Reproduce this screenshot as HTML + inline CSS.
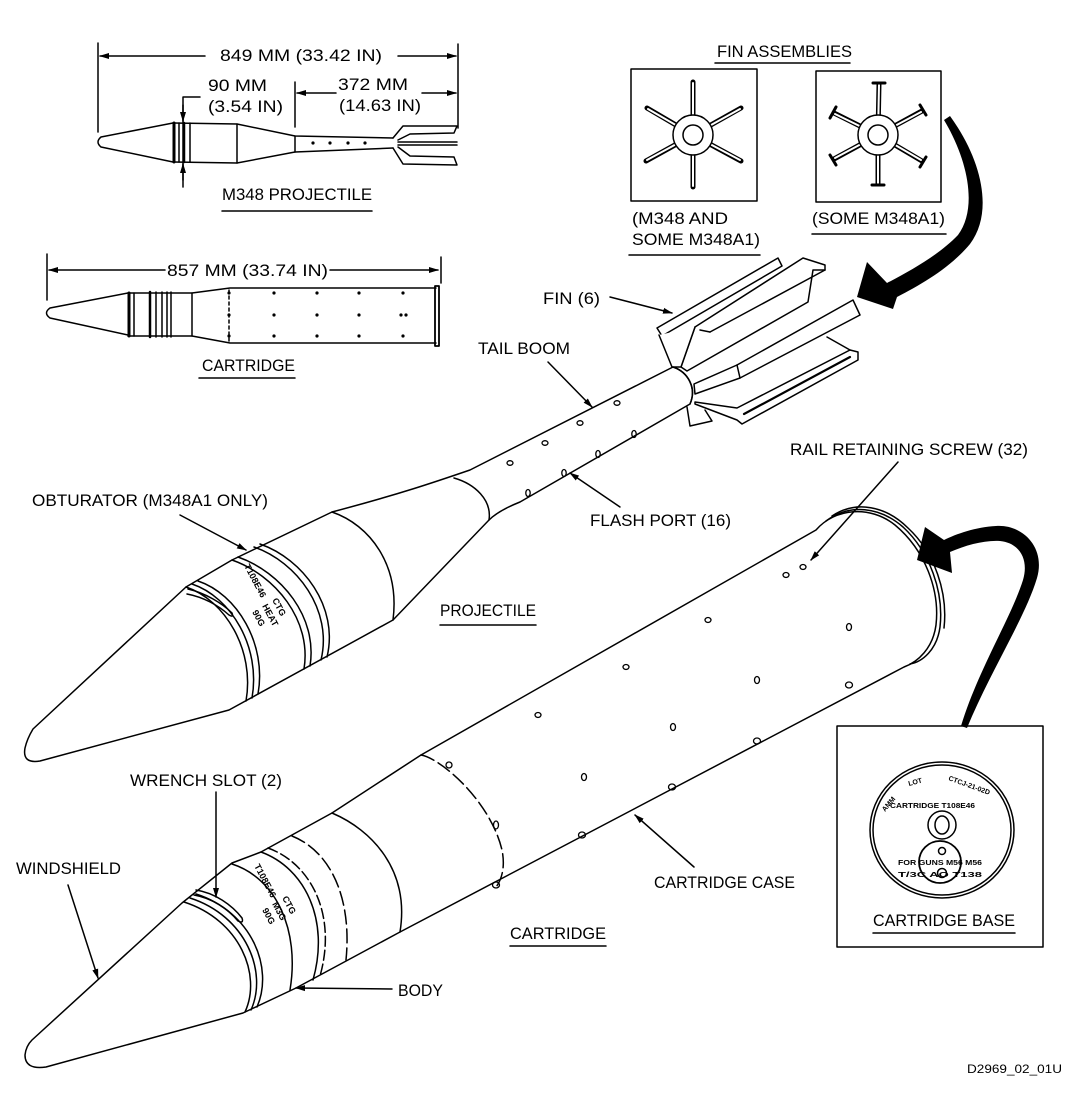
<!DOCTYPE html>
<html><head><meta charset="utf-8"><style>
html,body{margin:0;padding:0;background:#fff;}
svg{display:block;}
text{font-family:"Liberation Sans",Arial,sans-serif;fill:#000;}
</style></head><body>
<svg width="1080" height="1102" viewBox="0 0 1080 1102" xmlns="http://www.w3.org/2000/svg">
<defs>
<marker id="ah" markerWidth="10" markerHeight="8" refX="9" refY="4" orient="auto" markerUnits="userSpaceOnUse"><path d="M0,1 L10,4 L0,7 Z" fill="#000"/></marker>
</defs>
<rect width="1080" height="1102" fill="#fff"/>

<g fill="none" stroke="#000" stroke-width="1.5" stroke-linejoin="round" stroke-linecap="round">
<!-- ===== Small projectile view ===== -->
<line x1="98" y1="43" x2="98" y2="132"/>
<line x1="458" y1="44" x2="458" y2="128"/>
<line x1="205" y1="56" x2="100" y2="56" marker-end="url(#ah)"/>
<line x1="398" y1="56" x2="456" y2="56" marker-end="url(#ah)"/>
<line x1="295" y1="82" x2="295" y2="127"/>
<line x1="336" y1="93" x2="297" y2="93" marker-end="url(#ah)"/>
<line x1="422" y1="93" x2="456" y2="93" marker-end="url(#ah)"/>
<polyline points="200,97 183,97 183,187"/>
<line x1="183" y1="105" x2="183" y2="121" marker-end="url(#ah)"/>
<line x1="183" y1="180" x2="183" y2="164" marker-end="url(#ah)"/>
<path d="M173,123 L101,137 Q95,142 101,147 L173,162"/>
<path d="M173,123 L237,124 L295,136 L393,138 M173,162 L237,163 L295,152 L393,148"/>
<line x1="237" y1="124" x2="237" y2="163"/>
<line x1="295" y1="136" x2="295" y2="152"/>
<line x1="174" y1="123" x2="174" y2="162" stroke-width="3"/>
<line x1="179" y1="123" x2="179" y2="162"/>
<line x1="184" y1="123" x2="184" y2="162" stroke-width="2.5"/>
<line x1="190" y1="123" x2="190" y2="162"/>
<path d="M393,138 L403,126 L457,126 L454,133 L410,134 L398,140"/>
<path d="M398,142 L457,142 M398,145 L457,145"/>
<path d="M393,148 L403,164 L457,165 L454,157 L410,156 L398,147"/>
<g fill="#000" stroke="none">
<circle cx="313" cy="143" r="1.6"/><circle cx="330" cy="143" r="1.6"/><circle cx="348" cy="143" r="1.6"/><circle cx="365" cy="143" r="1.6"/>
</g>
<line x1="222" y1="211" x2="372" y2="211"/>

<!-- ===== Small cartridge view ===== -->
<line x1="47" y1="254" x2="47" y2="300"/>
<line x1="441" y1="257" x2="441" y2="283"/>
<line x1="165" y1="270" x2="49" y2="270" marker-end="url(#ah)"/>
<line x1="330" y1="270" x2="438" y2="270" marker-end="url(#ah)"/>
<path d="M128,293 L50,308 Q43,313 50,318 L128,335"/>
<path d="M128,293 L192,293 L230,288 L436,288 M128,336 L192,336 L230,343 L436,343"/>
<line x1="129" y1="293" x2="129" y2="336" stroke-width="3"/>
<line x1="134" y1="293" x2="134" y2="336"/>
<line x1="150" y1="292" x2="150" y2="337" stroke-width="2.5"/>
<line x1="156" y1="292" x2="156" y2="337"/>
<line x1="162" y1="292" x2="162" y2="337"/>
<line x1="167" y1="292" x2="167" y2="337"/>
<line x1="171" y1="292" x2="171" y2="337"/>
<line x1="192" y1="293" x2="192" y2="336"/>
<rect x="435" y="286" width="4" height="60" stroke-width="1.8"/>
<line x1="229" y1="290" x2="229" y2="341" stroke-dasharray="3,3"/>
<g fill="#000" stroke="none">
<circle cx="229" cy="293" r="1.6"/><circle cx="229" cy="315" r="1.6"/><circle cx="229" cy="336" r="1.6"/>
<circle cx="274" cy="293" r="1.6"/><circle cx="274" cy="315" r="1.6"/><circle cx="274" cy="336" r="1.6"/>
<circle cx="317" cy="293" r="1.6"/><circle cx="317" cy="315" r="1.6"/><circle cx="317" cy="336" r="1.6"/>
<circle cx="359" cy="293" r="1.6"/><circle cx="359" cy="315" r="1.6"/><circle cx="359" cy="336" r="1.6"/>
<circle cx="403" cy="293" r="1.6"/><circle cx="401" cy="315" r="1.6"/><circle cx="406" cy="315" r="1.6"/><circle cx="403" cy="336" r="1.6"/>
</g>
<line x1="199" y1="378" x2="295" y2="378"/>

<!-- ===== Fin assemblies ===== -->
<line x1="715" y1="63" x2="850" y2="63"/>
<rect x="631" y="69" width="126" height="132"/>
<rect x="816" y="71" width="125" height="131"/>
<line x1="629" y1="255" x2="760" y2="255"/>
<line x1="812" y1="234" x2="946" y2="234"/>
<g stroke-width="5">
<line x1="693" y1="135" x2="693" y2="82"/><line x1="693" y1="135" x2="693" y2="187"/>
<line x1="693" y1="135" x2="647" y2="108"/><line x1="693" y1="135" x2="741" y2="108"/>
<line x1="693" y1="135" x2="646" y2="161"/><line x1="693" y1="135" x2="741" y2="161"/>
</g>
<g stroke="#fff" stroke-width="2">
<line x1="693" y1="135" x2="693" y2="83"/><line x1="693" y1="135" x2="693" y2="186"/>
<line x1="693" y1="135" x2="648" y2="109"/><line x1="693" y1="135" x2="740" y2="109"/>
<line x1="693" y1="135" x2="647" y2="160"/><line x1="693" y1="135" x2="740" y2="160"/>
</g>
<circle cx="693" cy="135" r="20" fill="#fff"/>
<circle cx="693" cy="135" r="10"/>
<g stroke-width="5">
<line x1="878" y1="135" x2="879" y2="84"/><line x1="878" y1="135" x2="878" y2="184"/>
<line x1="878" y1="135" x2="834" y2="113"/><line x1="878" y1="135" x2="922" y2="111"/>
<line x1="878" y1="135" x2="834" y2="159"/><line x1="878" y1="135" x2="922" y2="161"/>
</g>
<g stroke="#fff" stroke-width="2">
<line x1="878" y1="135" x2="879" y2="85"/><line x1="878" y1="135" x2="878" y2="183"/>
<line x1="878" y1="135" x2="835" y2="114"/><line x1="878" y1="135" x2="921" y2="112"/>
<line x1="878" y1="135" x2="835" y2="158"/><line x1="878" y1="135" x2="921" y2="160"/>
</g>
<g stroke-width="3">
<line x1="873" y1="83" x2="885" y2="83"/><line x1="872" y1="185" x2="884" y2="185"/>
<line x1="830" y1="118" x2="836" y2="107"/><line x1="920" y1="105" x2="926" y2="115"/>
<line x1="830" y1="155" x2="836" y2="165"/><line x1="926" y1="157" x2="920" y2="167"/>
</g>
<circle cx="878" cy="135" r="20" fill="#fff"/>
<circle cx="878" cy="135" r="10"/>

<!-- ===== Big projectile ===== -->
<path fill="#fff" d="M33,729 L186,587 L232,560 L332,512 C400,494 435,482 470,470 L673,367 C688,372 697,388 690,404 L520,502 C505,508 495,514 489,520 L393,620 L229,710 L40,761 Q22,764 25,748 Q27,739 33,729 Z"/>
<path d="M186,587 C225,600 255,650 246,701"/>
<path d="M192,584 C231,597 261,647 252,698"/>
<path d="M198,581 C237,594 267,644 258,694"/>
<path d="M188,589 C205,593 222,603 232,613 Q234,618 229,615 C218,605 203,597 187,594"/>
<path d="M232,560 C275,575 312,620 304,669"/>
<path d="M238,557 C281,572 318,617 310,666"/>
<path d="M254,547 C297,562 333,610 321,660"/>
<path d="M260,544 C303,559 339,607 327,657"/>
<path d="M332,512 C370,525 400,565 393,620"/>
<path d="M454,478 C475,484 492,500 489,520"/>
<g stroke-width="1.3">
<ellipse cx="510" cy="463" rx="3" ry="2.3"/><ellipse cx="545" cy="443" rx="3" ry="2.3"/>
<ellipse cx="580" cy="423" rx="3" ry="2.3"/><ellipse cx="617" cy="403" rx="3" ry="2.3"/>
<ellipse cx="528" cy="493" rx="2.2" ry="3.5"/><ellipse cx="564" cy="473" rx="2.2" ry="3.5"/>
<ellipse cx="598" cy="454" rx="2.2" ry="3.5"/><ellipse cx="634" cy="434" rx="2.2" ry="3.5"/>
</g>

<!-- fins -->
<g fill="#fff">
<!-- fin E lower left -->
<path d="M687,407 L690,426 L712,421 L705,410"/>
<!-- fin D lower right -->
<path d="M695,402 L737,408 L850,350 L858,352 L858,360 L742,424 L737,420 L695,404 Z"/>
<line x1="744" y1="414" x2="850" y2="357" stroke-width="2.2"/>
<line x1="827" y1="337" x2="850" y2="350"/>
<!-- fin C right -->
<path d="M694,384 L737,365 L853,300 L860,315 L740,378 L695,394 Z"/>
<line x1="737" y1="365" x2="740" y2="378"/>
<!-- fin B upper right -->
<path d="M695,327 L803,258 L825,265 L825,270 L813,270 L808,302 L687,371 L681,367 Z"/>
<line x1="710" y1="332" x2="825" y2="270"/>
<line x1="700" y1="330" x2="710" y2="332"/>
<!-- fin A top-left -->
<path d="M657,328 L778,258 L782,266 L662,336 Z"/>
<path d="M659,335 L672,367 L681,367 L695,327"/>
<!-- hub -->
<path d="M673,367 C688,372 697,388 690,404" fill="none"/>
</g>

<!-- ===== Big cartridge ===== -->
<path fill="#fff" d="M32,1040 L182,903 L232,863 L261,852 L332,813 L421,755 L816,530 C835,508 870,505 895,525 C925,550 940,590 936,625 C933,648 918,662 904,667 L400,932 L296,988 L243,1013 L46,1067 Q25,1070 25,1055 Q26,1046 32,1040 Z"/>
<path d="M826,521 C850,503 880,507 903,527 C930,552 944,592 940,627 C937,650 922,662 910,664"/>
<path d="M832,516 C856,500 886,506 908,528 C935,553 948,593 944,628"/>
<path d="M184,902 C240,920 262,975 245,1012"/>
<path d="M190,898 C246,916 268,972 251,1010"/>
<path d="M196,894 C252,912 274,968 257,1007"/>
<path d="M196,890 C215,893 232,905 242,918 Q244,924 238,921 C228,909 212,898 194,895"/>
<path d="M232,864 C276,878 300,930 290,990"/>
<path d="M261,852 C305,868 330,920 313,980"/>
<path d="M268,848 C312,864 337,916 320,976" stroke-dasharray="10,4"/>
<path d="M292,836 C332,852 352,900 346,960" stroke-dasharray="14,5"/>
<path d="M332,813 C372,830 410,870 400,932"/>
<path d="M421,755 C440,758 490,800 502,850 C506,870 500,882 496,887" stroke-dasharray="14,5"/>
<g stroke-width="1.3">
<ellipse cx="449" cy="765" rx="3" ry="3"/><ellipse cx="496" cy="825" rx="2.5" ry="4"/>
<ellipse cx="584" cy="777" rx="2.5" ry="3.5"/><ellipse cx="673" cy="727" rx="2.5" ry="3.5"/>
<ellipse cx="538" cy="715" rx="3" ry="2.5"/><ellipse cx="626" cy="667" rx="3" ry="2.5"/>
<ellipse cx="757" cy="680" rx="2.5" ry="3.5"/><ellipse cx="708" cy="620" rx="3" ry="2.5"/>
<ellipse cx="849" cy="627" rx="2.5" ry="3.5"/><ellipse cx="786" cy="575" rx="3" ry="2.5"/>
<ellipse cx="803" cy="567" rx="3" ry="2.5"/>
<ellipse cx="582" cy="835" rx="3.5" ry="3"/><ellipse cx="672" cy="787" rx="3.5" ry="3"/>
<ellipse cx="757" cy="741" rx="3.5" ry="3"/><ellipse cx="849" cy="685" rx="3.5" ry="3"/>
<ellipse cx="496" cy="885" rx="3.5" ry="3"/>
</g>

<!-- ===== Cartridge base box ===== -->
<rect x="837" y="726" width="206" height="221"/>
<ellipse cx="942" cy="830" rx="72" ry="68"/>
<ellipse cx="942" cy="830" rx="69" ry="65"/>
<circle cx="942" cy="825" r="14"/>
<ellipse cx="942" cy="825" rx="7" ry="9"/>
<circle cx="940" cy="862" r="21" stroke-width="1.8"/>
<circle cx="942" cy="851" r="3.5"/>
<circle cx="942" cy="873" r="4.5"/>
<line x1="873" y1="933" x2="1015" y2="933"/>

<!-- ===== Leaders ===== -->
<line x1="610" y1="297" x2="672" y2="313" marker-end="url(#ah)"/>
<line x1="548" y1="362" x2="592" y2="407" marker-end="url(#ah)"/>
<line x1="620" y1="507" x2="570" y2="473" marker-end="url(#ah)"/>
<line x1="898" y1="462" x2="811" y2="560" marker-end="url(#ah)"/>
<line x1="694" y1="867" x2="635" y2="815" marker-end="url(#ah)"/>
<line x1="180" y1="515" x2="246" y2="550" marker-end="url(#ah)"/>
<line x1="216" y1="792" x2="216" y2="897" marker-end="url(#ah)"/>
<line x1="68" y1="885" x2="98" y2="978" marker-end="url(#ah)"/>
<line x1="392" y1="989" x2="296" y2="988" marker-end="url(#ah)"/>
<line x1="440" y1="625" x2="536" y2="625"/>
<line x1="510" y1="946" x2="606" y2="946"/>
</g>

<!-- ===== Big black arrows ===== -->
<path fill="#000" d="M950,116 C982,160 994,212 970,244 C950,268 922,284 897,297 L893,309 L857,297 L867,262 L887,283 C912,270 940,254 958,235 C978,208 968,160 944,120 Z"/>
<path fill="#000" d="M967,728 C990,672 1025,618 1037,578 C1046,547 1022,524 996,526 C976,527 956,534 944,540 L925,527 L917,560 L952,573 L950,552 C966,545 985,540 1000,541 C1020,543 1029,560 1023,580 C1011,618 978,670 961,726 Z"/>

<!-- ===== Text ===== -->
<g font-size="17">
<text x="220" y="61" textLength="162" lengthAdjust="spacingAndGlyphs">849 MM (33.42 IN)</text>
<text x="208" y="91" textLength="59" lengthAdjust="spacingAndGlyphs">90 MM</text>
<text x="208" y="112" textLength="75" lengthAdjust="spacingAndGlyphs">(3.54 IN)</text>
<text x="338" y="90" textLength="70" lengthAdjust="spacingAndGlyphs">372 MM</text>
<text x="339" y="111" textLength="82" lengthAdjust="spacingAndGlyphs">(14.63 IN)</text>
<text x="222" y="200" textLength="150" lengthAdjust="spacingAndGlyphs">M348 PROJECTILE</text>
<text x="167" y="276" textLength="161" lengthAdjust="spacingAndGlyphs">857 MM (33.74 IN)</text>
<text x="202" y="371" textLength="93" lengthAdjust="spacingAndGlyphs">CARTRIDGE</text>
<text x="717" y="57" textLength="135" lengthAdjust="spacingAndGlyphs">FIN ASSEMBLIES</text>
<text x="632" y="224" textLength="96" lengthAdjust="spacingAndGlyphs">(M348 AND</text>
<text x="632" y="245" textLength="128" lengthAdjust="spacingAndGlyphs">SOME M348A1)</text>
<text x="812" y="224" textLength="133" lengthAdjust="spacingAndGlyphs">(SOME M348A1)</text>
<text x="543" y="304" textLength="57" lengthAdjust="spacingAndGlyphs">FIN (6)</text>
<text x="478" y="354" textLength="92" lengthAdjust="spacingAndGlyphs">TAIL BOOM</text>
<text x="790" y="455" textLength="238" lengthAdjust="spacingAndGlyphs">RAIL RETAINING SCREW (32)</text>
<text x="32" y="506" textLength="236" lengthAdjust="spacingAndGlyphs">OBTURATOR (M348A1 ONLY)</text>
<text x="590" y="526" textLength="141" lengthAdjust="spacingAndGlyphs">FLASH PORT (16)</text>
<text x="440" y="616" textLength="96" lengthAdjust="spacingAndGlyphs">PROJECTILE</text>
<text x="130" y="786" textLength="152" lengthAdjust="spacingAndGlyphs">WRENCH SLOT (2)</text>
<text x="16" y="874" textLength="105" lengthAdjust="spacingAndGlyphs">WINDSHIELD</text>
<text x="654" y="888" textLength="141" lengthAdjust="spacingAndGlyphs">CARTRIDGE CASE</text>
<text x="510" y="939" textLength="96" lengthAdjust="spacingAndGlyphs">CARTRIDGE</text>
<text x="398" y="996" textLength="45" lengthAdjust="spacingAndGlyphs">BODY</text>
<text x="873" y="926" textLength="142" lengthAdjust="spacingAndGlyphs">CARTRIDGE BASE</text>
</g>
<text x="967" y="1073" font-size="12" textLength="95" lengthAdjust="spacingAndGlyphs">D2969_02_01U</text>

<g font-size="9" font-weight="bold">
<text transform="translate(252,612) rotate(62)">90G</text>
<text transform="translate(262,606) rotate(62)">HEAT</text>
<text transform="translate(272,600) rotate(62)">CTG</text>
<text transform="translate(244,566) rotate(62)">T108E46</text>
<text transform="translate(262,910) rotate(62)">90G</text>
<text transform="translate(272,904) rotate(62)">M3G</text>
<text transform="translate(282,898) rotate(62)">CTG</text>
<text transform="translate(254,866) rotate(62)">T108E46</text>
</g>
<g font-size="7" font-weight="bold">
<text transform="translate(885,812) rotate(-50)">AMM</text>
<text transform="translate(909,786) rotate(-15)">LOT</text>
<text transform="translate(948,780) rotate(20)">CTCJ-21-02D</text>
<text x="890" y="808" textLength="85" lengthAdjust="spacingAndGlyphs">CARTRIDGE T108E46</text>
<text x="898" y="865" textLength="84" lengthAdjust="spacingAndGlyphs">FOR GUNS M56 M56</text>
<text x="898" y="877" textLength="84" lengthAdjust="spacingAndGlyphs">T/3C  AO    T138</text>
</g>
</svg>
</body></html>
